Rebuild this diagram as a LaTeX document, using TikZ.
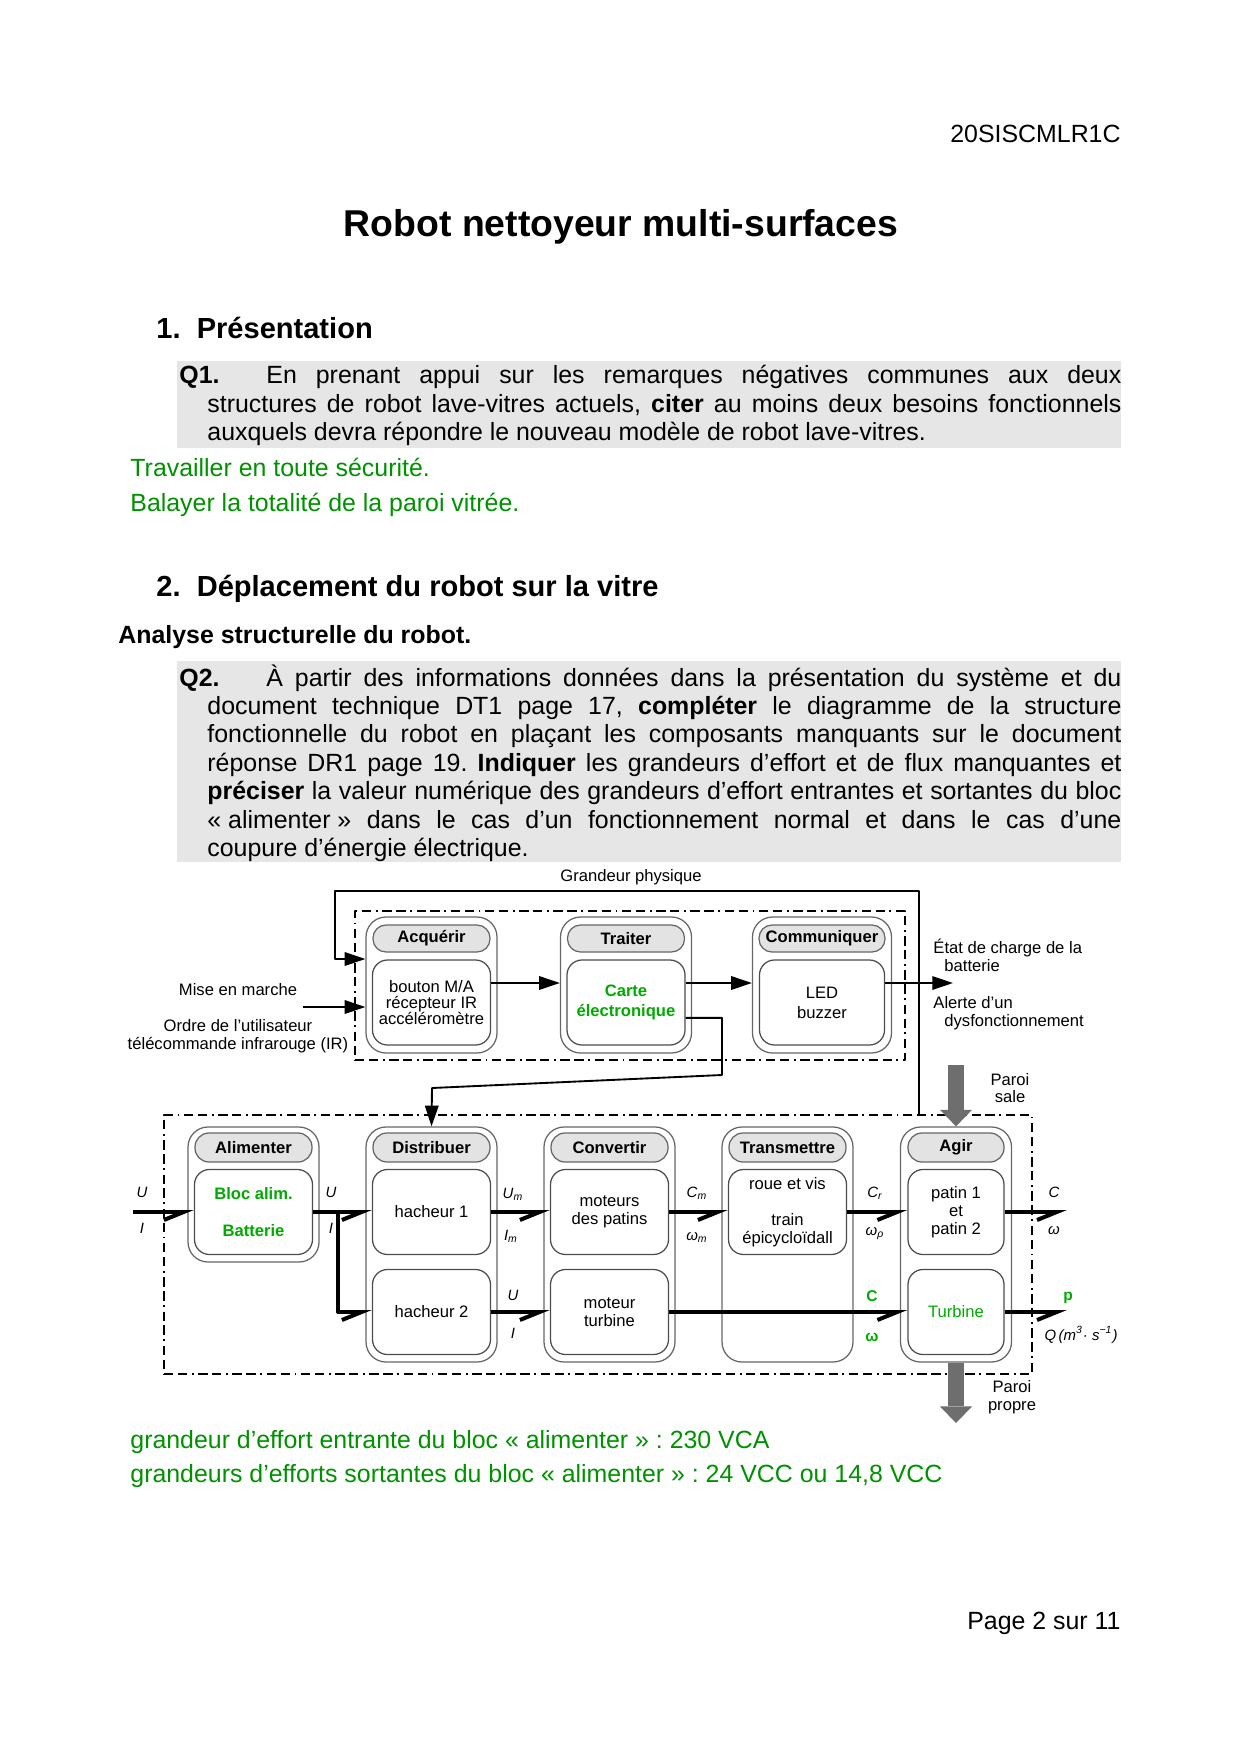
\documentclass[tikz,border=0pt]{standalone}
\usepackage{fontspec}
\setmainfont{Liberation Sans}
\usetikzlibrary{arrows.meta}
\newlength{\upx}
\setlength{\upx}{0.169355mm}
\definecolor{vertrep}{RGB}{0,145,0}
\definecolor{vertbloc}{RGB}{0,170,0}
\definecolor{fondq}{RGB}{230,230,230}
\definecolor{grisparoi}{RGB}{110,110,110}
\newcommand{\grd}[2]{\textit{#1}\textsubscript{\textit{#2}}}
\begin{document}
\frenchspacing
\begin{tikzpicture}[x=0.169355mm, y=-0.169355mm, line join=round,
	>={Triangle[length=10pt,width=6.5pt]},
	sig/.style={line width=0.9pt},
	puiss/.style={line width=4\upx, -{Straight Barb[harpoon,swap,length=9.5pt,width=7.7pt]}},
	paroi/.style={draw=grisparoi, line width=8pt, -{Triangle[length=8pt,width=15.5pt,line width=0pt]}},
	grp/.style={draw, line width=0.9pt, inner sep=0pt, dash pattern=on 4.5pt off 2.2pt on 4.5pt off 2.2pt on 0.9pt off 2.2pt},
	bloc/.style={draw=black!60, line width=0.6pt, rounded corners=20\upx, minimum width=131\upx},
	titre/.style={draw=black!60, fill=black!11, line width=0.6pt, rounded corners=14\upx, minimum width=117\upx, minimum height=29\upx, inner sep=0pt, font=\fontsize{8}{8.6}\selectfont\bfseries},
	comp/.style={draw=black!70, line width=0.6pt, rounded corners=15\upx, minimum width=118\upx, minimum height=85\upx, inner sep=0pt, align=center, font=\fontsize{8}{8.6}\selectfont},
	compH/.style={comp, font=\fontsize{8}{7.9}\selectfont},
	lab/.style={inner sep=0pt, font=\fontsize{8}{8.6}\selectfont},
	var/.style={lab, font=\fontsize{7.2}{8.6}\selectfont\itshape},
	rep/.style={lab, text=vertbloc, font=\fontsize{7.5}{8.6}\selectfont\bfseries},
	texte/.style={inner sep=0pt, anchor=north west, text width=942\upx, align=justify, font=\fontsize{12}{13.7}\selectfont},
	ligne/.style={inner sep=0pt, anchor=base west, font=\fontsize{12}{13.7}\selectfont}]
	\useasboundingbox (0,0) rectangle (1240,1754);
	% en-tete et questions
	\node[inner sep=0pt, anchor=base east, font=\fontsize{12}{13.7}\selectfont] (code) at (1121,142) {20SISCMLR1C};
	\node[inner sep=0pt, anchor=base, font=\fontsize{18}{21}\selectfont\bfseries] (titrep) at (621,236) {Robot nettoyeur multi-surfaces};
	\node[ligne, font=\fontsize{14}{16}\selectfont\bfseries] (sec1) at (156,338) {1.\ \ Présentation};
	\fill[fondq] (177,361) rectangle (1121,448);
	\node[texte] (q1) at (179,365) {\noindent\hangindent=28\upx\hangafter=1\makebox[87\upx][l]{\textbf{Q1.}}En prenant appui sur les remarques négatives communes aux deux\linebreak structures de robot lave-vitres actuels, \textbf{citer} au moins deux besoins fonctionnels\linebreak auxquels devra répondre le nouveau modèle de robot lave-vitres.\par};
	\node[ligne, text=vertrep] (r1a) at (130,476) {Travailler en toute sécurité.};
	\node[ligne, text=vertrep] (r1b) at (130,511) {Balayer la totalité de la paroi vitrée.};
	\node[ligne, font=\fontsize{14}{16}\selectfont\bfseries] (sec2) at (156,596) {2.\ \ Déplacement du robot sur la vitre};
	\node[ligne, font=\fontsize{12}{13.7}\selectfont\bfseries] (analyse) at (118,643) {Analyse structurelle du robot.};
	\fill[fondq] (177,661) rectangle (1121,862);
	\node[texte] (q2) at (179,664) {\noindent\hangindent=28\upx\hangafter=1\makebox[87\upx][l]{\textbf{Q2.}}À partir des informations données dans la présentation du système et du\linebreak document technique DT1 page 17, \textbf{compléter} le diagramme de la structure\linebreak fonctionnelle du robot en plaçant les composants manquants sur le document\linebreak réponse DR1 page 19. \textbf{Indiquer} les grandeurs d’effort et de flux manquantes et\linebreak \textbf{préciser} la valeur numérique des grandeurs d’effort entrantes et sortantes du bloc\linebreak \mbox{« alimenter »} dans le cas d’un fonctionnement normal et dans le cas d’une\linebreak coupure d’énergie électrique.\par};
	% chaine d'information
	\node[grp, minimum width=550\upx, minimum height=149\upx] (Ginfo) at (630,985.5) {};
	\node[bloc, minimum height=136\upx] (Bacq) at (431.5,985) {};
	\node[titre, minimum height=27\upx, rounded corners=13\upx] (Tacq) at (431.5,938.5) {Acquérir};
	\node[compH] (capteurs) at (431.5,1002.5) {bouton M/A\\récepteur IR\\accéléromètre};
	\node[bloc, minimum height=136\upx] (Btrait) at (626,985) {};
	\node[titre, minimum height=27\upx, rounded corners=13\upx] (Ttrait) at (626,938.5) {Traiter};
	\node[compH, text=vertbloc, font=\fontsize{8}{8}\selectfont\bfseries] (carte) at (626,1002.5) {Carte\\[1.6pt]électronique};
	\node[bloc, minimum width=139\upx, minimum height=136\upx] (Bcom) at (822,985) {};
	\node[titre, minimum width=126\upx, minimum height=27\upx, rounded corners=13\upx] (Tcom) at (822,938.5) {Communiquer};
	\node[compH, minimum width=125\upx] (leds) at (822,1002.5) {LED\\[1.6pt]buzzer};
	\coordinate (niv) at (0,983);
	\coordinate (sortie) at (953,983);
	\coordinate (mise) at (303,1007);
	\coordinate (retour) at (919,1115);
	\coordinate (retourG) at (335,959);
	\draw[sig,->] (capteurs.east |- niv) -- (Btrait.west |- niv);
	\draw[sig,->] (carte.east |- niv) -- (Bcom.west |- niv);
	\draw[sig,->] (leds.east |- niv) -- (sortie);
	\draw[sig,->] (mise) -- (mise -| Bacq.west);
	\draw[sig,->] (retour) -- (919,891) -- (335,891) -- (retourG) -- (retourG -| Bacq.west);
	\node[lab] (lgrand) at (631,877) {Grandeur physique};
	\node[lab] (lmise) at (238,990) {Mise en marche};
	\node[lab, align=center] (lordre) at (238,1036) {Ordre de l’utilisateur\\télécommande infrarouge (IR)};
	\node[lab, anchor=west] (letat) at (933,948) {État de charge de la};
	\node[lab, anchor=west] (lbatt) at (944,966) {batterie};
	\node[lab, anchor=west] (lalerte) at (933,1003) {Alerte d’un};
	\node[lab, anchor=west] (ldysf) at (944,1022) {dysfonctionnement};
	% chaine d'energie
	\node[grp, minimum width=868\upx, minimum height=259\upx] (Gener) at (598,1244.5) {};
	\node[bloc, minimum height=135\upx] (Balim) at (253.5,1194.5) {};
	\node[titre] (Talim) at (253.5,1147.5) {Alimenter};
	\node[comp, text=vertbloc, font=\fontsize{8}{8.6}\selectfont\bfseries] (alim) at (253.5,1212) {Bloc alim.\\[8.8pt]Batterie};
	\node[bloc, minimum height=235\upx] (Bdist) at (431.5,1244.5) {};
	\node[titre] (Tdist) at (431.5,1147.5) {Distribuer};
	\node[comp] (hach1) at (431.5,1212) {hacheur 1};
	\node[comp] (hach2) at (431.5,1312) {hacheur 2};
	\node[bloc, minimum height=235\upx] (Bconv) at (609.5,1244.5) {};
	\node[titre] (Tconv) at (609.5,1147.5) {Convertir};
	\node[comp] (motp) at (609.5,1212) {moteurs\\des patins};
	\node[comp] (mott) at (609.5,1312) {moteur\\turbine};
	\node[bloc, minimum height=235\upx] (Btrans) at (787.5,1244.5) {};
	\node[titre] (Ttrans) at (787.5,1147.5) {Transmettre};
	\node[comp] (reduc) at (787.5,1212) {roue et vis\\[8.6pt]train\\épicycloïdall};
	\node[bloc, minimum width=111\upx, minimum height=235\upx] (Bagir) at (956,1244.5) {};
	\node[titre, minimum width=96\upx] (Tagir) at (956,1147.5) {Agir};
	\node[comp, minimum width=96\upx] (patins) at (956,1212) {patin 1\\et\\patin 2};
	\node[comp, minimum width=96\upx, text=vertbloc] (turb) at (956,1312) {Turbine};
	\draw[sig,->] ([yshift=-7.4pt]carte.east) -| (722,1075) -- (432,1088) -- (Bdist.north);
	\coordinate (entree) at (133,1212);
	\coordinate (derive) at (338,1212);
	\coordinate (sortC) at (1067,1212);
	\coordinate (sortP) at (1067,1312);
	\draw[puiss] (entree) -- (alim.west);
	\draw[puiss] (alim.east) -- (hach1.west);
	\draw[puiss] (derive) |- (hach2.west);
	\draw[puiss] (hach1.east) -- (motp.west);
	\draw[puiss] (motp.east) -- (reduc.west);
	\draw[puiss] (reduc.east) -- (patins.west);
	\draw[puiss] (patins.east) -- (sortC);
	\draw[puiss] (hach2.east) -- (mott.west);
	\draw[puiss] (mott.east) -- (turb.west);
	\draw[puiss] (turb.east) -- (sortP);
	\node[var] (lU0) at (142,1192) {U};
	\node[var] (lI0) at (142,1228) {I};
	\node[var] (lU1) at (331,1192) {U};
	\node[var] (lI1) at (331,1228) {I};
	\node[var] (lUm) at (513,1194) {\grd{U}{m}};
	\node[var] (lIm) at (511,1236) {\grd{I}{m}};
	\node[var] (lU2) at (513,1295) {U};
	\node[var] (lI2) at (513,1333) {I};
	\node[var] (lCm) at (697,1193) {\grd{C}{m}};
	\node[var] (lwm) at (697,1237) {\grd{ω}{m}};
	\node[var] (lCr) at (875,1193) {\grd{C}{r}};
	\node[var] (lwr) at (875,1234) {\grd{ω}{ρ}};
	\node[rep] (lC2) at (872,1296) {C};
	\node[rep] (lw2) at (872,1337) {ω};
	\node[var] (lC3) at (1054,1192) {C};
	\node[var] (lw3) at (1054,1231) {ω};
	\node[rep] (lp) at (1068,1298) {p};
	\node[var] (lQ) at (1081,1335) {Q\,(m\textsuperscript{3}· s\textsuperscript{−1})};
	% parois
	\coordinate (sale) at (956,1065);
	\coordinate (propre) at (956,1423);
	\draw[paroi] (sale) -- (Bagir.north);
	\draw[paroi] (Bagir.south) -- (propre);
	\node[lab, align=center] (lsale) at (1010,1088) {Paroi\\sale};
	\node[lab, align=center] (lpropre) at (1012,1397) {Paroi\\propre};
	% reponses et pied de page
	\node[ligne, text=vertrep] (r2a) at (130,1448) {grandeur d’effort entrante du bloc «~alimenter~» : 230 VCA};
	\node[ligne, text=vertrep] (r2b) at (130,1482) {grandeurs d’efforts sortantes du bloc «~alimenter~» : 24 VCC ou 14,8 VCC};
	\node[inner sep=0pt, anchor=base east, font=\fontsize{12}{13.7}\selectfont] (page) at (1121,1629) {Page 2 sur 11};
\end{tikzpicture}
\end{document}
